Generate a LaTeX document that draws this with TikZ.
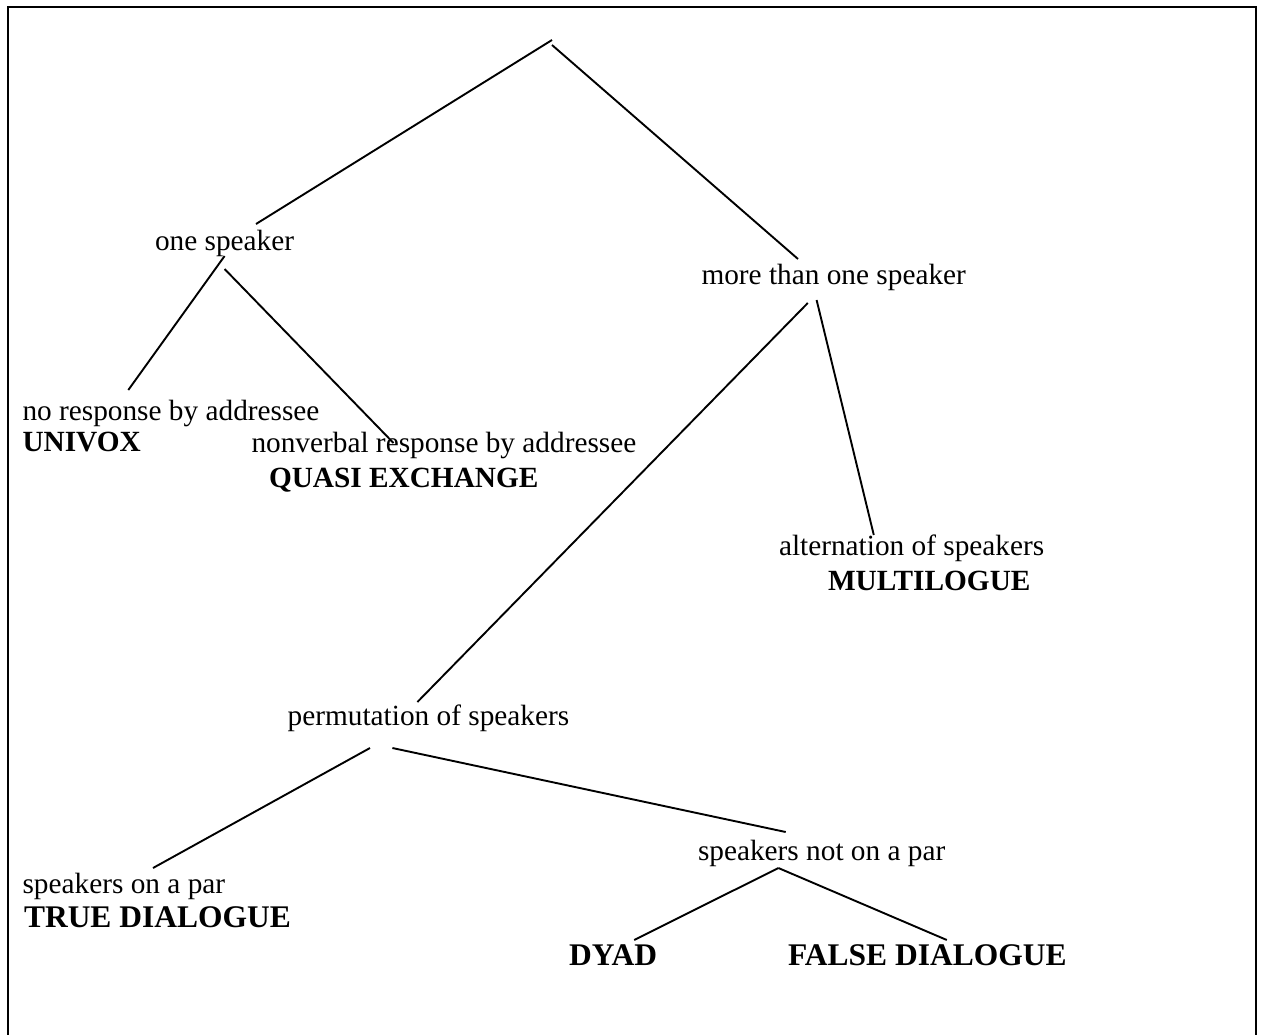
\documentclass[tikz,border=0pt]{standalone}
\usepackage{fontspec}
\setmainfont{Liberation Serif}
\begin{document}
\begin{tikzpicture}[x=1pt,y=-1pt,
  lbl/.style={inner sep=0pt,outer sep=0pt,anchor=base west,font=\fontsize{29.3}{35}\selectfont},
  bld/.style={lbl,font=\fontsize{29.3}{35}\selectfont\bfseries},
  bldl/.style={lbl,font=\fontsize{31.5}{37}\selectfont\bfseries},
  edge/.style={line width=1.9pt,line cap=butt},
  frame/.style={line width=2.4pt}]
\useasboundingbox (0,0) rectangle (1261,1034);
% frame (open at bottom)
\coordinate (fbl) at (8,1040);
\coordinate (ftl) at (8,7);
\coordinate (ftr) at (1256,7);
\coordinate (fbr) at (1256,1040);
\draw[frame] (fbl) -- (ftl) -- (ftr) -- (fbr);
% texts
\node[lbl] (one) at (155,250) {one speaker};
\node[lbl] (more) at (701.5,284) {more than one speaker};
\node[lbl] (nores) at (22.5,420) {no response by addressee};
\node[bld] (univox) at (22.5,451) {UNIVOX};
\node[lbl] (nonverb) at (251.5,452) {nonverbal response by addressee};
\node[bld] (quasi) at (269,487) {QUASI EXCHANGE};
\node[lbl] (alt) at (779,555) {alternation of speakers};
\node[bld] (multi) at (828,590) {MULTILOGUE};
\node[lbl] (perm) at (287.7,725) {permutation of speakers};
\node[lbl] (notpar) at (698,860) {speakers not on a par};
\node[lbl] (onpar) at (22.6,893) {speakers on a par};
\node[bldl] (truedia) at (24,927) {TRUE DIALOGUE};
\node[bldl] (dyad) at (569,965) {DYAD};
\node[bldl] (falsedia) at (788,965) {FALSE DIALOGUE};
% line end points
\coordinate (rootL) at (552,40);
\coordinate (rootR) at (552,45);
\coordinate (oneTop) at (256,224);
\coordinate (moreTop) at (798,259);
\coordinate (oneL) at (224.6,256);
\coordinate (oneR) at (224.6,269);
\coordinate (noresTop) at (128.3,390);
\coordinate (nonverbTop) at (393.5,443);
\coordinate (moreL) at (807.8,303);
\coordinate (moreR) at (816.6,300);
\coordinate (permTop) at (417.4,702);
\coordinate (altTop) at (873.8,535);
\coordinate (permL) at (370,748);
\coordinate (permR) at (392.4,748);
\coordinate (onparTop) at (153,868);
\coordinate (notparTop) at (785.7,832);
\coordinate (notparB) at (778.4,868);
\coordinate (dyadTop) at (634.2,940);
\coordinate (falseTop) at (946.8,940);
% connectors
\draw[edge] (rootL) -- (oneTop);
\draw[edge] (rootR) -- (moreTop);
\draw[edge] (oneL) -- (noresTop);
\draw[edge] (oneR) -- (nonverbTop);
\draw[edge] (moreL) -- (permTop);
\draw[edge] (moreR) -- (altTop);
\draw[edge] (permL) -- (onparTop);
\draw[edge] (permR) -- (notparTop);
\draw[edge] (notparB) -- (dyadTop);
\draw[edge] (notparB) -- (falseTop);
\end{tikzpicture}
\end{document}
